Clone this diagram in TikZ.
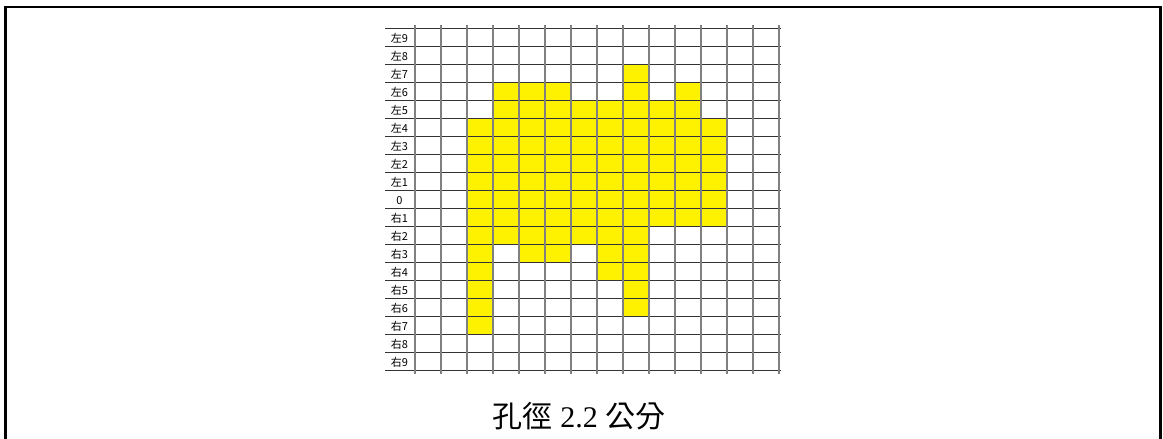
\documentclass[tikz,border=0pt]{standalone}
\usepackage{fontspec}
\setmainfont{Liberation Serif}
\newfontfamily\cjk{Noto Sans CJK TC}
\begin{document}
\begin{tikzpicture}[x=1pt,y=-1pt,
  hline/.style={draw=black!80,line width=0.9pt},
  vline/.style={draw=black!50,line width=1.2pt},
  cell/.style={fill=yellow},
  lab/.style={font=\cjk\fontsize{11}{11}\selectfont, anchor=base, inner sep=0pt},
  frame/.style={draw=black,line width=2.6pt}]
\useasboundingbox (0,0) rectangle (1163,439);
\clip (0,0) rectangle (1163,439);
\fill[white] (0,0) rectangle (1163,439);
% outer frame (bottom edge lies outside the picture)
\draw[frame] (5.5,450) -- (5.5,7) -- (1160.5,7) -- (1160.5,450);
% yellow cells
\foreach \r/\cs in {2/{8},3/{3,4,5,8,10},4/{3,4,5,6,7,8,9,10},
  5/{2,3,4,5,6,7,8,9,10,11},6/{2,3,4,5,6,7,8,9,10,11},7/{2,3,4,5,6,7,8,9,10,11},
  8/{2,3,4,5,6,7,8,9,10,11},9/{2,3,4,5,6,7,8,9,10,11},10/{2,3,4,5,6,7,8,9,10,11},
  11/{2,3,4,5,6,7,8},12/{2,4,5,7,8},13/{2,7,8},14/{2,8},15/{2,8},16/{2}}{
  \foreach \c in \cs {
    \fill[cell] (415+26*\c,28+18*\r) rectangle ++(26,18);
  }
}
% grid
\foreach \r in {0,...,19} \draw[hline] (385,28+18*\r) -- (781,28+18*\r);
\foreach \c in {0,...,14} \draw[vline] (415+26*\c,25) -- (415+26*\c,374);
% row labels
\foreach \t [count=\i from 0] in {左9,左8,左7,左6,左5,左4,左3,左2,左1,0,右1,右2,右3,右4,右5,右6,右7,右8,右9}
  \node[lab] (lab\i) at (399.5,28+18*\i+14.5) {\t};
% caption
\node[font=\fontsize{30}{30}\selectfont, anchor=base, inner sep=0pt] (cap) at (579,427) {{\cjk 孔徑} 2.2 {\cjk 公分}};
\end{tikzpicture}
\end{document}
